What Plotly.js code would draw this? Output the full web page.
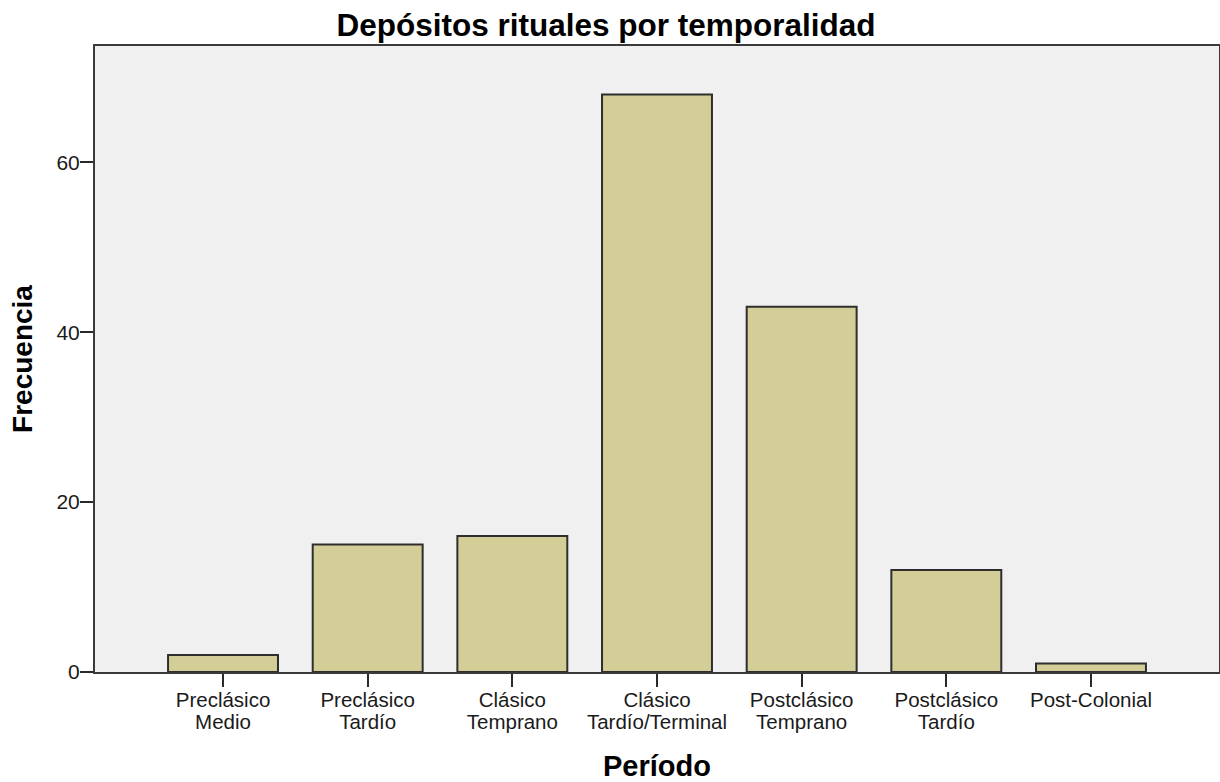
<!DOCTYPE html>
<html>
<head>
<meta charset="utf-8">
<script src="https://cdn.plot.ly/plotly-3.0.1.min.js"></script>
<style>html,body{margin:0;padding:0;background:#fff;}#chart{width:1220px;height:782px;}</style>
</head>
<body>
<div id="chart"></div>
<script>
const categories = ["Preclásico Medio", "Preclásico Tardío", "Clásico Temprano", "Clásico Tardío/Terminal", "Postclásico Temprano", "Postclásico Tardío", "Post-Colonial"];
const labelLine1 = ["Preclásico", "Preclásico", "Clásico", "Clásico", "Postclásico", "Postclásico", "Post-Colonial"];
const labelLine2 = ["Medio", "Tardío", "Temprano", "Tardío/Terminal", "Temprano", "Tardío", ""];
const frecuencia = [2, 15, 16, 68, 43, 12, 1];
const yTicks = [0, 20, 40, 60];

const idx = categories.map((c, i) => i);
const xr = [-0.885, 6.885];

const trace = {
  type: 'bar',
  x: categories,
  y: frecuencia,
  marker: {color: '#d3ce97', line: {color: '#2e2e2e', width: 2}},
  hoverinfo: 'x+y'
};
// invisible helper trace so that the second axis carrying the second label lines is drawn
const helper = {
  type: 'scatter', mode: 'markers', x: idx, y: frecuencia, xaxis: 'x2', yaxis: 'y',
  marker: {opacity: 0}, hoverinfo: 'skip', showlegend: false
};

const tickFont = {family: 'Arial, "Liberation Sans", sans-serif', size: 20.5, color: '#1a1a1a'};
const layout = {
  width: 1220, height: 782,
  margin: {l: 95, r: 1, t: 46, b: 110},
  paper_bgcolor: '#ffffff',
  plot_bgcolor: '#f0f0f0',
  showlegend: false,
  title: {
    text: '<b>Depósitos rituales por temporalidad</b>',
    font: {family: 'Arial, "Liberation Sans", sans-serif', size: 31.5, color: '#000'},
    x: 606 / 1220, xref: 'container', xanchor: 'center',
    y: 1 - 25 / 782, yref: 'container', yanchor: 'middle'
  },
  bargap: 0.24,
  xaxis: {
    type: 'category',
    range: xr,
    tickmode: 'array', tickvals: categories, ticktext: labelLine1,
    ticks: 'outside', ticklen: 13, tickwidth: 2, tickcolor: '#2a2a2a',
    ticklabelstandoff: -5,
    tickfont: tickFont,
    showline: true, linecolor: '#3a3a3a', linewidth: 2, mirror: true,
    showgrid: false, zeroline: false, fixedrange: true,
    title: {text: '<b>Período</b>', font: {family: 'Arial, "Liberation Sans", sans-serif', size: 29, color: '#000'}, standoff: 50}
  },
  xaxis2: {
    overlaying: 'x', side: 'bottom', type: 'linear',
    range: xr,
    tickmode: 'array', tickvals: idx, ticktext: labelLine2,
    ticks: 'outside', ticklen: 31, tickwidth: 1, tickcolor: 'rgba(0,0,0,0)',
    tickfont: tickFont,
    showline: false, showgrid: false, zeroline: false, fixedrange: true
  },
  yaxis: {
    range: [0, 73.7],
    tickmode: 'array', tickvals: yTicks, ticktext: yTicks.map(String),
    ticks: 'outside', ticklen: 13, tickwidth: 2, tickcolor: '#2a2a2a',
    ticklabelstandoff: -4,
    tickfont: {family: 'Arial, "Liberation Sans", sans-serif', size: 21, color: '#1a1a1a'},
    showline: true, linecolor: '#3a3a3a', linewidth: 2, mirror: true,
    showgrid: false, zeroline: false, fixedrange: true,
    title: {text: '<b>Frecuencia</b>', font: {family: 'Arial, "Liberation Sans", sans-serif', size: 28, color: '#000'}, standoff: 16}
  }
};

Plotly.newPlot('chart', [trace, helper], layout, {displayModeBar: false, staticPlot: true});
</script>
</body>
</html>
